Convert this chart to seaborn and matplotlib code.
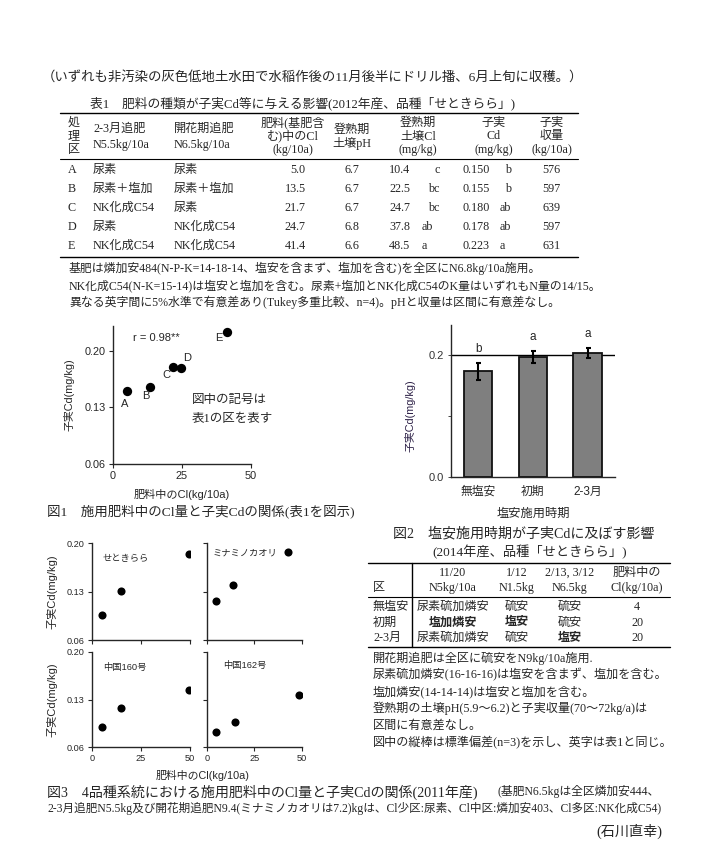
import matplotlib
matplotlib.use('Agg')
import matplotlib.pyplot as plt
import seaborn as sns
import pandas as pd
from matplotlib.lines import Line2D

# ---------------- data ----------------
intro_text = '（いずれも非汚染の灰色低地土水田で水稲作後の11月後半にドリル播、6月上旬に収穫。）'
t1_title = '表1　肥料の種類が子実Cd等に与える影響(2012年産、品種「せときらら」)'
t1_plots = ['A', 'B', 'C', 'D', 'E']
t1_topdress = ['尿素', '尿素＋塩加', 'NK化成C54', '尿素', 'NK化成C54']
t1_flower = ['尿素', '尿素＋塩加', '尿素', 'NK化成C54', 'NK化成C54']
t1_cl = [5.0, 13.5, 21.7, 24.7, 41.4]
t1_ph = [6.7, 6.7, 6.7, 6.8, 6.6]
t1_soilcl = [10.4, 22.5, 24.7, 37.8, 48.5]
t1_soilcl_sig = ['c', 'bc', 'bc', 'ab', 'a']
t1_cd = [0.150, 0.155, 0.180, 0.178, 0.223]
t1_cd_sig = ['b', 'b', 'ab', 'ab', 'a']
t1_yield = [576, 597, 639, 597, 631]
t1_notes = ['基肥は燐加安484(N-P-K=14-18-14、塩安を含まず、塩加を含む)を全区にN6.8kg/10a施用。',
            'NK化成C54(N-K=15-14)は塩安と塩加を含む。尿素+塩加とNK化成C54のK量はいずれもN量の14/15。',
            '異なる英字間に5%水準で有意差あり(Tukey多重比較、n=4)。pHと収量は区間に有意差なし。']

f1_r = 'r = 0.98**'
f1_note = ['図中の記号は', '表1の区を表す']
f1_caption = '図1　施用肥料中のCl量と子実Cdの関係(表1を図示)'

f2_cats = ['無塩安', '初期', '2-3月']
f2_cd = [0.174, 0.198, 0.204]
f2_sd = [0.0135, 0.010, 0.0085]
f2_sig = ['b', 'a', 'a']
f2_caption = '図2　塩安施用時期が子実Cdに及ぼす影響'
f2_sub = '(2014年産、品種「せときらら」)'

t2_head1 = ['', '11/20', '1/12', '2/13, 3/12', '肥料中の']
t2_head2 = ['区', 'N5kg/10a', 'N1.5kg', 'N6.5kg', 'Cl(kg/10a)']
t2_plots = ['無塩安', '初期', '2-3月']
t2_nov = ['尿素硫加燐安', '塩加燐安', '尿素硫加燐安']
t2_jan = ['硫安', '塩安', '硫安']
t2_feb = ['硫安', '硫安', '塩安']
t2_cl = [4, 20, 20]
t2_notes = ['開花期追肥は全区に硫安をN9kg/10a施用.',
            '尿素硫加燐安(16-16-16)は塩安を含まず、塩加を含む。',
            '塩加燐安(14-14-14)は塩安と塩加を含む。',
            '登熟期の土壌pH(5.9～6.2)と子実収量(70～72kg/a)は',
            '区間に有意差なし。',
            '図中の縦棒は標準偏差(n=3)を示し、英字は表1と同じ。']

f3_varieties = ['せときらら', 'ミナミノカオリ', '中国160号', '中国162号']
f3_cl_setokirara = [5.0, 15.0, 49.5]
f3_cd_setokirara = [0.096, 0.131, 0.185]
f3_cl_minami = [4.9, 13.8, 43.0]
f3_cd_minami = [0.1165, 0.140, 0.188]
f3_cl_c160 = [5.0, 15.0, 49.3]
f3_cd_c160 = [0.089, 0.118, 0.144]
f3_cl_c162 = [5.0, 15.0, 48.5]
f3_cd_c162 = [0.082, 0.0966, 0.137]
f3_caption1 = '図3　4品種系統における施用肥料中のCl量と子実Cdの関係(2011年産)'
f3_caption1b = '(基肥N6.5kgは全区燐加安444、'
f3_caption2 = '2-3月追肥N5.5kg及び開花期追肥N9.4(ミナミノカオリは7.2)kgは、Cl少区:尿素、Cl中区:燐加安403、Cl多区:NK化成C54)'
author = '(石川直幸)'

# ---------------- setup ----------------
sns.set_style('ticks')
SERIF = ['Liberation Serif', 'Noto Sans CJK JP', 'DejaVu Sans']
SANS = ['Liberation Sans', 'Noto Sans CJK JP', 'DejaVu Sans']
plt.rcParams['font.family'] = SANS
plt.rcParams['axes.linewidth'] = 1.0
plt.rcParams['xtick.direction'] = 'out'
plt.rcParams['ytick.direction'] = 'out'

W, H = 705, 841
fig = plt.figure(figsize=(W / 100, H / 100), dpi=100)
fig.patch.set_facecolor('white')


def T(x, y, s, size=8.7, ha='left', va='center', family=SERIF, **kw):
    fig.text(x / W, 1 - y / H, s, fontsize=size, ha=ha, va=va, family=family, **kw)


def HL(x0, x1, y, lw=1.0):
    fig.add_artist(Line2D([x0 / W, x1 / W], [1 - y / H, 1 - y / H],
                          transform=fig.transFigure, color='black', lw=lw))


def VL(x, y0, y1, lw=1.0):
    fig.add_artist(Line2D([x / W, x / W], [1 - y0 / H, 1 - y1 / H],
                          transform=fig.transFigure, color='black', lw=lw))


def AX(l, t, r, b):
    ax = fig.add_axes([l / W, 1 - b / H, (r - l) / W, (b - t) / H])
    ax.set_facecolor('white')
    return ax


# ---------------- header & table 1 ----------------
T(42, 77, intro_text, size=9.65)
T(90, 103, t1_title, size=9.2)
HL(60, 578, 113)
for yy, s in zip([123, 136.5, 150], ['処', '理', '区']):
    T(67.5, yy, s)
T(93, 128.7, '2-3月追肥'); T(93, 145.3, 'N5.5kg/10a')
T(174, 128.7, '開花期追肥'); T(174, 145.3, 'N6.5kg/10a')
for cx, lines in [(293, ['肥料(基肥含', 'む)中のCl', '(kg/10a)']),
                  (418, ['登熟期', '土壌Cl', '(mg/kg)']),
                  (494, ['子実', 'Cd', '(mg/kg)']),
                  (551.7, ['子実', '収量', '(kg/10a)'])]:
    for yy, s in zip([123, 136.3, 149.7], lines):
        T(cx, yy, s, ha='center')
T(351.7, 130, '登熟期', ha='center'); T(351.7, 143, '土壌pH', ha='center')
HL(60, 578, 158.7, lw=0.8)
rows_y = [169.7, 189, 208, 227.3, 246.3]
for i, yy in enumerate(rows_y):
    T(67.5, yy, t1_plots[i])
    T(93, yy, t1_topdress[i])
    T(174, yy, t1_flower[i])
    T(305.7, yy, f'{t1_cl[i]:.1f}', ha='right')
    T(351.7, yy, f'{t1_ph[i]:.1f}', ha='center')
    T(389.3, yy, f'{t1_soilcl[i]:.1f}')
    s = t1_soilcl_sig[i]
    T(421.7 if s.startswith('a') else 440, yy, s, ha='left' if s.startswith('a') else 'right')
    T(462.3, yy, f'{t1_cd[i]:.3f}')
    s = t1_cd_sig[i]
    T(500 if s.startswith('a') else 511, yy, s, ha='left' if s.startswith('a') else 'right')
    T(551.7, yy, f'{t1_yield[i]}', ha='center')
HL(60, 578, 257)
for yy, s in zip([268, 285.5, 302.5], t1_notes):
    T(69, yy, s, size=8.55)

# ---------------- figure 1 ----------------
l, t, r, b = 112.7, 326.3, 250.7, 464
ax1 = AX(l, t, r, b)
sns.scatterplot(x=t1_cl, y=t1_cd, ax=ax1, color='black', s=45, edgecolor='black', linewidth=0)
ax1.set_xlim(0, 50)
ax1.set_ylim(0.06, 0.23)
ax1.set_xticks([0, 25, 50])
ax1.set_yticks([0.06, 0.13, 0.20])
ax1.set_yticklabels(['0.06', '0.13', '0.20'])
ax1.tick_params(labelsize=7.8, length=3, width=0.8, pad=2)
sns.despine(ax=ax1)
offsets = [(-1, -9), (-2.8, -6.6), (-4.2, -6), (4.2, 7.6), (-6.2, -4)]
for xv, yv, lab, off in zip(t1_cl, t1_cd, t1_plots, offsets):
    ax1.annotate(lab, (xv, yv), xytext=off, textcoords='offset points', ha='center', va='center',
                 fontsize=8, family=SANS)
ax1.text(7.5, 0.215, f1_r, fontsize=8, ha='left', va='center', family=SANS)
ax1.text(28.7, 0.139, f1_note[0], fontsize=9, ha='left', va='center', family=SERIF)
ax1.text(28.7, 0.1155, f1_note[1], fontsize=9, ha='left', va='center', family=SERIF)
ax1.set_xlabel('肥料中のCl(kg/10a)', fontsize=8)
ax1.set_ylabel('子実Cd(mg/kg)', fontsize=7.8)
ax1.xaxis.set_label_coords((181.7 - l) / (r - l), (b - 489) / (b - t))
ax1.yaxis.set_label_coords((74 - l) / (r - l), 0.5)
T(47, 511, f1_caption, size=9.7)

# ---------------- figure 2 ----------------
l, t, r, b = 450.7, 325, 615, 477.3
ax2 = AX(l, t, r, b)
ax2.axhline(0.2, color='black', lw=1.0, zorder=0.5)
sns.barplot(x=f2_cats, y=f2_cd, ax=ax2, color='#7f7f7f', saturation=1, edgecolor='#111111',
            linewidth=1.3, width=0.52, errorbar=None, zorder=2)
ax2.errorbar(range(len(f2_cats)), f2_cd, yerr=f2_sd, fmt='none', ecolor='black',
             elinewidth=1.5, capsize=1.8, capthick=1.5, zorder=3)
for i, (v, e, s) in enumerate(zip(f2_cd, f2_sd, f2_sig)):
    ax2.annotate(s, (i, v + e), xytext=(0, 10), textcoords='offset points', ha='center',
                 va='center', fontsize=8.5, family=SANS)
ax2.set_xlim(-0.5, 2.5)
ax2.set_ylim(0, 0.25)
ax2.set_yticks([0, 0.1, 0.2])
ax2.set_yticklabels(['0.0', '', '0.2'])
ax2.tick_params(axis='y', labelsize=8, length=2, width=0.6, pad=3, labelcolor='#333333')
ax2.tick_params(axis='x', labelsize=8.5, length=0, pad=6)
sns.despine(ax=ax2)
ax2.set_xlabel('塩安施用時期', fontsize=8.8)
ax2.set_ylabel('子実Cd(mg/kg)', fontsize=7.8, color='#2e2248')
ax2.xaxis.set_label_coords((533 - l) / (r - l), (b - 508) / (b - t))
ax2.yaxis.set_label_coords((415 - l) / (r - l), (b - 416) / (b - t))
T(393, 534, f2_caption, size=10.1)
T(530, 551.7, f2_sub, size=9.5, ha='center')

# ---------------- table 2 ----------------
HL(368, 670, 563.3)
VL(412, 563.3, 647)
cols = [373, 453, 517, 570, 637]
for j, (h1, h2) in enumerate(zip(t2_head1, t2_head2)):
    if j == 0:
        T(cols[0], 588, h2)
    else:
        T(cols[j], 573, h1, ha='center')
        T(cols[j], 588, h2, ha='center')
HL(368, 670, 597, lw=0.8)
for i, yy in enumerate([607, 622.5, 638]):
    T(cols[0], yy, t2_plots[i])
    for j, cell in zip([1, 2, 3], [t2_nov[i], t2_jan[i], t2_feb[i]]):
        T(cols[j], yy, cell, ha='center', fontweight='bold' if '塩' in cell else 'normal')
    T(cols[4], yy, str(t2_cl[i]), ha='center')
HL(368, 670, 647)
for yy, s in zip([658, 675, 691.7, 708.7, 726, 742.7], t2_notes):
    T(373, yy, s, size=8.7)

# ---------------- figure 3 ----------------
panels = [
    ((91.7, 543.3, 190, 640), f3_cl_setokirara, f3_cd_setokirara, (103, 558), True, False),
    ((206.7, 543.3, 301.7, 640), f3_cl_minami, f3_cd_minami, (213, 553), False, False),
    ((91.7, 651.7, 190, 747.3), f3_cl_c160, f3_cd_c160, (103, 667), True, True),
    ((206.7, 651.7, 301.7, 747.3), f3_cl_c162, f3_cd_c162, (223, 665), False, True),
]
for (box, xs, ys, (lx, ly), left, bottom), name in zip(panels, f3_varieties):
    l, t, r, b = box
    ax = AX(l, t, r, b)
    sns.scatterplot(x=xs, y=ys, ax=ax, color='black', s=34, edgecolor='black', linewidth=0)
    ax.set_xlim(0, 50)
    ax.set_ylim(0.06, 0.20)
    ax.set_xticks([0, 25, 50])
    ax.set_yticks([0.06, 0.13, 0.20])
    ax.set_yticklabels(['0.06', '0.13', '0.20'] if left else [])
    if not bottom:
        ax.set_xticklabels([])
    ax.tick_params(labelsize=6.6, length=3, width=0.8, pad=2)
    sns.despine(ax=ax)
    ax.text((lx - l) / (r - l), (b - ly) / (b - t), name, transform=ax.transAxes,
            fontsize=6.7, ha='left', va='center', family=SANS)
    if left:
        ax.set_ylabel('子実Cd(mg/kg)', fontsize=8)
        ax.yaxis.set_label_coords((57 - l) / (r - l), 0.5)
T(203, 775, '肥料中のCl(kg/10a)', size=7.8, ha='center', family=SANS)
T(47, 792, f3_caption1, size=10.1)
T(498, 792, f3_caption1b, size=8.5)
T(47, 808.5, f3_caption2, size=8.35)
T(662, 831.5, author, size=10.2, ha='right')

fig.savefig('out.png', dpi=100, facecolor='white')
